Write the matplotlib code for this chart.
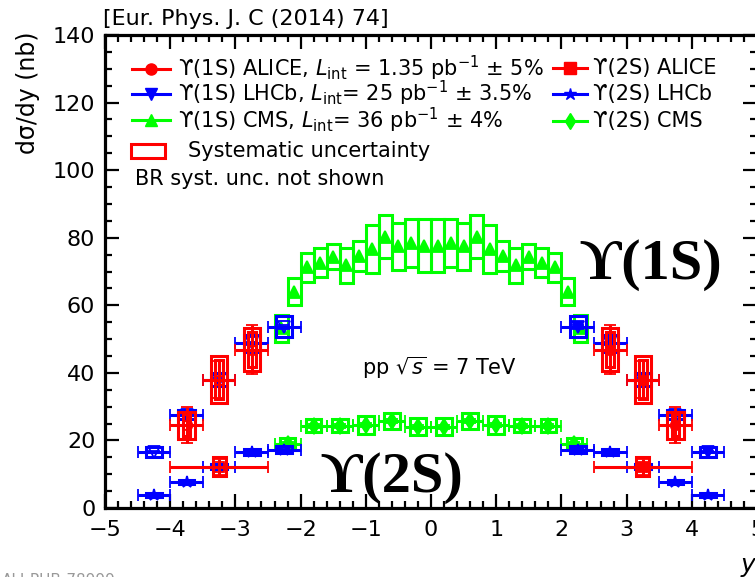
import numpy as np
import matplotlib.pyplot as plt
from matplotlib.lines import Line2D
from matplotlib.patches import Rectangle
from matplotlib.ticker import MultipleLocator

plt.rcParams['font.family'] = ['DejaVu Sans']
plt.rcParams['mathtext.fontset'] = 'dejavusans'

# CMS Upsilon(1S), |y| bins of width 0.2
cms1s_y = np.array([0.1, 0.3, 0.5, 0.7, 0.9, 1.1, 1.3, 1.5, 1.7, 1.9, 2.1, 2.3])
cms1s_val = np.array([77.6, 78.4, 77.4, 80.3, 76.7, 74.6, 71.9, 74.4, 72.6, 71.3, 64.0, 53.2])
cms1s_stat = np.array([1.0, 1.0, 1.0, 1.0, 1.0, 1.0, 1.0, 1.0, 1.0, 1.0, 1.0, 1.0])
cms1s_syst = np.array([7.85, 7.0, 7.0, 6.4, 7.0, 4.4, 5.2, 3.75, 4.3, 4.3, 3.95, 3.95])

# CMS Upsilon(2S), |y| bins of width 0.4
cms2s_y = np.array([0.2, 0.6, 1.0, 1.4, 1.8, 2.2])
cms2s_val = np.array([24.1, 25.75, 24.5, 24.4, 24.4, 18.9])
cms2s_stat = np.array([0.6, 0.6, 0.6, 0.6, 0.6, 0.6])
cms2s_syst = np.array([2.45, 2.45, 2.6, 1.8, 1.8, 1.7])

# LHCb, 2.0 < y < 4.5 in bins of 0.5
lhcb_y = np.array([2.25, 2.75, 3.25, 3.75, 4.25])
lhcb1s_val = np.array([53.7, 48.7, 38.0, 27.6, 16.6])
lhcb1s_stat = np.array([0.6, 0.5, 0.4, 0.4, 0.3])
lhcb1s_syst = np.array([3.0, 2.5, 1.85, 1.3, 1.4])
lhcb2s_val = np.array([17.3, 16.7, 12.2, 7.6, 3.9])
lhcb2s_stat = np.array([0.3, 0.3, 0.3, 0.2, 0.2])
lhcb2s_syst = np.array([1.0, 0.9, 0.8, 0.6, 0.5])

# ALICE, 2.5 < y < 4.0
alice1s_y = np.array([2.75, 3.25, 3.75])
alice1s_val = np.array([46.9, 38.0, 24.5])
alice1s_stat = np.array([7.3, 5.5, 5.3])
alice1s_syst = np.array([6.45, 6.9, 3.95])
alice1s_syst_unc = np.array([5.2, 5.7, 3.3])
alice2s_y = np.array([3.25])
alice2s_val = np.array([12.2])
alice2s_stat = np.array([2.4])
alice2s_syst = np.array([2.85])

RED, BLUE, GREEN = '#ff0000', '#0000ff', '#00ff00'

W, H = 755, 577
fig = plt.figure(figsize=(W / 100, H / 100), dpi=100)
ax = fig.add_axes([105 / W, 1 - 508 / H, 652 / W, 473 / H])


def fx(p):
    return p / W


def fy(p):
    return 1 - p / H


def draw_set(x, val, stat, syst, color, marker, ms, box_w, xerr=None,
             open_left=True, caps=4.5, z=2):
    for sign in (1, -1):
        face = 'none' if (sign < 0 and open_left) else color
        ax.bar(sign * x, 2 * syst, width=box_w, bottom=val - syst, fill=False,
               edgecolor=color, linewidth=2.2, zorder=z)
        ax.errorbar(sign * x, val, xerr=xerr, yerr=stat, fmt=marker,
                    color=color, mfc=face, mec=color, ms=ms, mew=1.3,
                    capsize=caps, elinewidth=2.2, capthick=2.2, zorder=z + 0.5)


# CMS
draw_set(cms1s_y, cms1s_val, cms1s_stat, cms1s_syst, GREEN, '^', 8, 0.2,
         open_left=False, caps=0, z=2)
draw_set(cms2s_y, cms2s_val, cms2s_stat, cms2s_syst, GREEN, 'd', 8, 0.24,
         xerr=0.2, open_left=False, z=2)
# LHCb
draw_set(lhcb_y, lhcb1s_val, lhcb1s_stat, lhcb1s_syst, BLUE, 'v', 8, 0.25,
         xerr=0.25, z=3)
draw_set(lhcb_y, lhcb2s_val, lhcb2s_stat, lhcb2s_syst, BLUE, '*', 9, 0.24,
         xerr=0.25, z=3)
# ALICE: outer box total systematics, inner box uncorrelated part
for sign in (1, -1):
    ax.bar(sign * alice1s_y, 2 * alice1s_syst_unc, width=0.12,
           bottom=alice1s_val - alice1s_syst_unc, fill=False,
           edgecolor=RED, linewidth=2.2, zorder=4)
draw_set(alice1s_y, alice1s_val, alice1s_stat, alice1s_syst, RED, 'o', 7,
         0.25, xerr=0.25, z=4)
draw_set(alice2s_y, alice2s_val, alice2s_stat, alice2s_syst, RED, 's', 7,
         0.2, xerr=0.75, z=4)

# axes style
ax.set_xlim(-5, 5)
ax.set_ylim(0, 140)
ax.xaxis.set_major_locator(MultipleLocator(1))
ax.xaxis.set_minor_locator(MultipleLocator(0.2))
ax.yaxis.set_major_locator(MultipleLocator(20))
ax.yaxis.set_minor_locator(MultipleLocator(5))
ax.tick_params(which='both', direction='in', top=True, right=True, width=1.6)
ax.tick_params(which='major', length=10, labelsize=16)
ax.tick_params(which='minor', length=5)
ax.tick_params(axis='x', pad=9)
ax.tick_params(axis='y', pad=7)
for s in ax.spines.values():
    s.set_linewidth(2.3)

fig.text(fx(103), fy(19), '[Eur. Phys. J. C (2014) 74]', size=16, va='center')
fig.text(fx(28), fy(32), 'dσ/dy (nb)', rotation=90, ha='center', va='top',
         size=17)
fig.text(fx(741), fy(553), 'y', style='italic', size=18, va='top')
fig.text(fx(2), fy(573), 'ALI-PUB-78999', color='0.6', size=11, va='top')

fig.text(fx(362), fy(368), r'pp $\sqrt{s}$ = 7 TeV', size=15, va='center')
serif = ['Liberation Serif', 'DejaVu Serif']
fig.text(fx(651), fy(265), 'ϒ(1S)', family=serif, weight='bold', size=42,
         ha='center', va='center')
fig.text(fx(392), fy(478), 'ϒ(2S)', family=serif, weight='bold', size=42,
         ha='center', va='center')

# legend, left column
left_rows = [
    (68.5, RED, 'o', 'ϒ(1S) ALICE, $L_{\\mathrm{int}}$ = 1.35 pb$^{-1}$ ± 5%'),
    (93.5, BLUE, 'v', 'ϒ(1S) LHCb, $L_{\\mathrm{int}}$= 25 pb$^{-1}$ ± 3.5%'),
    (120, GREEN, '^', 'ϒ(1S) CMS, $L_{\\mathrm{int}}$= 36 pb$^{-1}$ ± 4%'),
]
right_rows = [
    (68, RED, 's', 'ϒ(2S) ALICE'),
    (94, BLUE, '*', 'ϒ(2S) LHCb'),
    (121, GREEN, 'd', 'ϒ(2S) CMS'),
]
for rows, x0, x1, tx in ((left_rows, 132, 170, 178), (right_rows, 553, 587, 593)):
    for yy, c, m, label in rows:
        fig.add_artist(Line2D([fx(x0), fx((x0 + x1) / 2), fx(x1)], [fy(yy)] * 3,
                              color=c, lw=2.2, marker=m, markevery=[1],
                              ms=9 if m == '*' else 8,
                              transform=fig.transFigure))
        fig.text(fx(tx), fy(yy), label, size=15, va='center')

fig.add_artist(Rectangle((fx(131), fy(158)), fx(165) - fx(131), fy(144) - fy(158),
                         fill=False, edgecolor=RED, lw=2.2,
                         transform=fig.transFigure))
fig.text(fx(188), fy(151), 'Systematic uncertainty', size=15, va='center')
fig.text(fx(135), fy(179), 'BR syst. unc. not shown', size=15, va='center')

fig.savefig('out.png', dpi=100)
